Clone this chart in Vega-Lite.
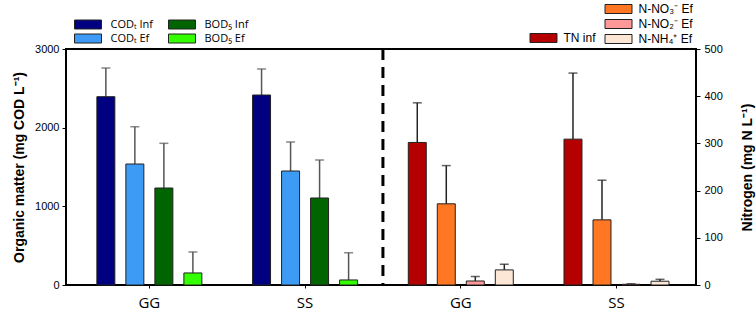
{
  "$schema": "https://vega.github.io/schema/vega-lite/v6.json",
  "width": 630,
  "height": 236,
  "autosize": "none",
  "padding": {"left": 66, "top": 49, "right": 60, "bottom": 27},
  "background": "white",
  "config": {
    "view": {"stroke": "black", "strokeWidth": 2},
    "axis": {"labelFont": "Liberation Sans", "titleFont": "Liberation Sans", "labelColor": "black", "titleColor": "black", "tickColor": "black", "grid": false, "domain": false},
    "legend": {"labelFont": "Liberation Sans", "labelFontSize": 12, "labelColor": "black", "symbolStrokeColor": "#222", "symbolStrokeWidth": 1, "symbolType": "M-3,-1H3V1H-3Z", "symbolSize": 81, "symbolOffset": 8.5, "labelOffset": 14, "rowPadding": 1, "columnPadding": 1, "padding": 0, "symbolOpacity": 1}
  },
  "data": {"values": [
    {"panel": "org", "group": "GG_org", "slot": 1, "variable": "CODₜ Inf", "value": 2394, "upper": 2758},
    {"panel": "org", "group": "GG_org", "slot": 2, "variable": "CODₜ Ef", "value": 1538, "upper": 2012},
    {"panel": "org", "group": "GG_org", "slot": 3, "variable": "BOD₅ Inf", "value": 1233, "upper": 1801},
    {"panel": "org", "group": "GG_org", "slot": 4, "variable": "BOD₅ Ef", "value": 153, "upper": 420},
    {"panel": "org", "group": "SS_org", "slot": 1, "variable": "CODₜ Inf", "value": 2415, "upper": 2746},
    {"panel": "org", "group": "SS_org", "slot": 2, "variable": "CODₜ Ef", "value": 1449, "upper": 1818},
    {"panel": "org", "group": "SS_org", "slot": 3, "variable": "BOD₅ Inf", "value": 1106, "upper": 1589},
    {"panel": "org", "group": "SS_org", "slot": 4, "variable": "BOD₅ Ef", "value": 64, "upper": 410},
    {"panel": "N", "group": "GG_N", "slot": 1, "variable": "TN inf", "value": 302, "upper": 386},
    {"panel": "N", "group": "GG_N", "slot": 2, "variable": "N-NO₃⁻ Ef", "value": 172, "upper": 253},
    {"panel": "N", "group": "GG_N", "slot": 3, "variable": "N-NO₂⁻ Ef", "value": 8.5, "upper": 18},
    {"panel": "N", "group": "GG_N", "slot": 4, "variable": "N-NH₄⁺ Ef", "value": 32, "upper": 44},
    {"panel": "N", "group": "SS_N", "slot": 1, "variable": "TN inf", "value": 309, "upper": 449},
    {"panel": "N", "group": "SS_N", "slot": 2, "variable": "N-NO₃⁻ Ef", "value": 138, "upper": 222},
    {"panel": "N", "group": "SS_N", "slot": 3, "variable": "N-NO₂⁻ Ef", "value": 1.5, "upper": 2.5},
    {"panel": "N", "group": "SS_N", "slot": 4, "variable": "N-NH₄⁺ Ef", "value": 8, "upper": 12}
  ]},
  "encoding": {
    "x": {
      "field": "group", "type": "nominal",
      "scale": {"domain": ["GG_org", "SS_org", "GG_N", "SS_N"], "paddingInner": 0, "paddingOuter": 0.023, "align": 0.77},
      "axis": {"title": null, "labelAngle": 0, "labelExpr": "split(datum.label, '_')[0]", "labelFont": "Open Sans", "labelFontSize": 15, "tickSize": 3, "labelPadding": 7}
    }
  },
  "layer": [
    {
      "transform": [{"filter": "datum.panel == 'org'"}],
      "encoding": {
        "xOffset": {"field": "slot", "type": "ordinal", "scale": {"paddingInner": 0.38, "paddingOuter": 0.874}}
      },
      "layer": [
        {
          "mark": {"type": "rule", "color": "#555", "strokeWidth": 1.5},
          "encoding": {
            "y": {"field": "value", "type": "quantitative"},
            "y2": {"field": "upper"}
          }
        },
        {
          "mark": {"type": "tick", "color": "#555", "size": 9, "thickness": 1.5},
          "encoding": {"y": {"field": "upper", "type": "quantitative"}}
        },
        {
          "mark": {"type": "bar", "stroke": "#222", "strokeWidth": 1, "opacity": 1},
          "encoding": {
            "y": {"field": "value", "type": "quantitative",
              "scale": {"domain": [0, 3000], "nice": false},
              "axis": {"orient": "left", "values": [0, 500, 1000, 1500, 2000, 2500, 3000], "format": "d", "tickSize": 4, "labelPadding": 3, "labelFontSize": 11, "title": "Organic matter (mg COD L⁻¹)", "titleFontSize": 14, "titleFontWeight": "bold", "titlePadding": 8}},
            "color": {"field": "variable", "type": "nominal",
              "scale": {"domain": ["CODₜ Inf", "CODₜ Ef", "BOD₅ Inf", "BOD₅ Ef"], "range": ["#000080", "#3d9bf5", "#006400", "#33ff00"]},
              "legend": {"orient": "none", "legendX": 8, "legendY": -30, "columns": 2, "title": null, "labelFont": "Open Sans", "labelFontSize": 11, "labelOffset": 17, "columnPadding": 13}}
          }
        }
      ]
    },
    {
      "transform": [{"filter": "datum.panel == 'N'"}],
      "encoding": {
        "xOffset": {"field": "slot", "type": "ordinal", "scale": {"paddingInner": 0.38, "paddingOuter": 0.874}}
      },
      "layer": [
        {
          "mark": {"type": "rule", "color": "#222", "strokeWidth": 1.5},
          "encoding": {
            "y": {"field": "value", "type": "quantitative"},
            "y2": {"field": "upper"}
          }
        },
        {
          "mark": {"type": "tick", "color": "#222", "size": 9, "thickness": 1.5},
          "encoding": {"y": {"field": "upper", "type": "quantitative"}}
        },
        {
          "transform": [{"filter": "datum.variable == 'TN inf'"}],
          "mark": {"type": "bar", "stroke": "#222", "strokeWidth": 1, "opacity": 1},
          "encoding": {
            "y": {"field": "value", "type": "quantitative",
              "scale": {"domain": [0, 500], "nice": false},
              "axis": {"orient": "right", "values": [0, 100, 200, 300, 400, 500], "tickSize": 4, "labelPadding": 4, "labelFontSize": 11, "title": "Nitrogen (mg N L⁻¹)", "titleFontSize": 14, "titleFontWeight": "bold", "titleAngle": 270, "titlePadding": 32}},
            "color": {"field": "variable", "type": "nominal",
              "scale": {"domain": ["TN inf"], "range": ["#b40000"]},
              "legend": {"orient": "none", "legendX": 463, "legendY": -17, "title": null, "labelOffset": 14}}
          }
        },
        {
          "transform": [{"filter": "datum.variable != 'TN inf'"}],
          "mark": {"type": "bar", "stroke": "#222", "strokeWidth": 1, "opacity": 1},
          "encoding": {
            "y": {"field": "value", "type": "quantitative"},
            "color": {"field": "variable", "type": "nominal",
              "scale": {"domain": ["N-NO₃⁻ Ef", "N-NO₂⁻ Ef", "N-NH₄⁺ Ef"], "range": ["#ff7722", "#ff9999", "#fce6d6"]},
              "legend": {"orient": "none", "legendX": 538, "legendY": -46, "title": null, "labelOffset": 14}}
          }
        }
      ],
      "resolve": {"scale": {"color": "independent"}}
    },
    {
      "data": {"values": [{"sep": 1}]},
      "mark": {"type": "rule", "color": "black", "strokeWidth": 3, "strokeDash": [11, 7]},
      "encoding": {"x": {"datum": "GG_N", "bandPosition": 0}}
    }
  ],
  "resolve": {"scale": {"y": "independent", "color": "independent"}}
}
